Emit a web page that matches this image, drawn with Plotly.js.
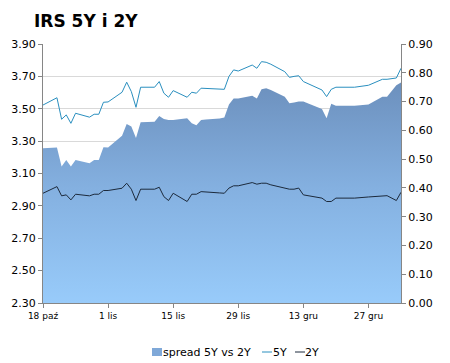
<!DOCTYPE html>
<html>
<head>
<meta charset="utf-8">
<script src="https://cdn.plot.ly/plotly-3.0.1.min.js"></script>
<style>html,body{margin:0;padding:0;background:#fff;}#chart{width:450px;height:363px;}</style>
</head>
<body>
<div id="chart"></div>
<script>
const dates = ['2013-10-18','2013-10-21','2013-10-22','2013-10-23','2013-10-24','2013-10-25',
  '2013-10-28','2013-10-29','2013-10-30','2013-10-31','2013-11-01',
  '2013-11-04','2013-11-05','2013-11-06','2013-11-07','2013-11-08',
  '2013-11-11','2013-11-12','2013-11-13','2013-11-14','2013-11-15',
  '2013-11-18','2013-11-19','2013-11-20','2013-11-21','2013-11-22',
  '2013-11-25','2013-11-26','2013-11-27','2013-11-28','2013-11-29',
  '2013-12-02','2013-12-03','2013-12-04','2013-12-05','2013-12-06',
  '2013-12-09','2013-12-10','2013-12-11','2013-12-12','2013-12-13',
  '2013-12-16','2013-12-17','2013-12-18','2013-12-19','2013-12-20',
  '2013-12-23','2013-12-24','2013-12-27','2013-12-30','2013-12-31',
  '2014-01-02','2014-01-03'];
const irs5y = [3.523,3.568,3.435,3.462,3.410,3.472,
  3.448,3.466,3.466,3.540,3.542,
  3.602,3.664,3.606,3.509,3.633,
  3.633,3.668,3.596,3.571,3.612,
  3.571,3.602,3.596,3.627,3.626,
  3.622,3.620,3.700,3.740,3.733,
  3.770,3.750,3.791,3.787,3.775,
  3.729,3.694,3.700,3.704,3.668,
  3.630,3.616,3.575,3.620,3.633,
  3.633,3.633,3.645,3.682,3.682,
  3.690,3.750];
const irs2y = [2.978,3.019,2.962,2.968,2.937,2.972,
  2.962,2.972,2.972,2.995,2.995,
  3.009,3.040,3.003,2.933,3.003,
  3.003,3.015,2.957,2.933,2.978,
  2.927,2.972,2.972,2.988,2.985,
  2.980,2.978,3.010,3.024,3.024,
  3.044,3.034,3.040,3.040,3.030,
  3.010,3.003,3.003,3.010,2.968,
  2.955,2.948,2.927,2.927,2.948,
  2.948,2.948,2.955,2.963,2.963,
  2.933,2.984];
const spread = [0.538,0.540,0.474,0.497,0.474,0.497,
  0.486,0.497,0.497,0.541,0.540,
  0.581,0.622,0.613,0.573,0.628,
  0.630,0.650,0.639,0.636,0.636,
  0.642,0.625,0.618,0.636,0.638,
  0.641,0.645,0.690,0.711,0.711,
  0.720,0.711,0.743,0.746,0.740,
  0.717,0.694,0.697,0.700,0.700,
  0.680,0.674,0.642,0.692,0.685,
  0.685,0.685,0.690,0.717,0.717,
  0.757,0.766];
const tickDates = ['2013-10-18','2013-11-01','2013-11-15','2013-11-29','2013-12-13','2013-12-27'];
const tickLabels = ['18 paź','1 lis','15 lis','29 lis','13 gru','27 gru'];
const leftTicks = [2.3,2.5,2.7,2.9,3.1,3.3,3.5,3.7,3.9];
const rightTicks = [0,0.1,0.2,0.3,0.4,0.5,0.6,0.7,0.8,0.9];
const seriesNames = ['spread 5Y vs 2Y', '5Y', '2Y'];
const colSpread = '#7fa8d8', col5 = '#2a8fbf', col2 = '#1c2a3c';

const font = 'DejaVu Sans, Verdana, sans-serif';
const traces = [
  {x: dates, y: spread, name: seriesNames[0], type: 'scatter', mode: 'lines',
   yaxis: 'y', fill: 'tozeroy', line: {width: 0, color: colSpread},
   fillcolor: '#85b0e0',
   fillgradient: {type: 'vertical', start: 0, stop: 0.8,
     colorscale: [[0, '#98cbfa'], [0.5, '#84b0e0'], [1, '#6a8dba']]}},
  {x: dates, y: irs5y, name: seriesNames[1], type: 'scatter', mode: 'lines', yaxis: 'y2',
   line: {width: 1, color: col5}},
  {x: dates, y: irs2y, name: seriesNames[2], type: 'scatter', mode: 'lines', yaxis: 'y2',
   line: {width: 1, color: col2}}
];
// pixel helpers for legend placement (plot area 43..401 x, 44..303 y)
const px = v => (v - 43) / 358;
const py = v => (303 - v) / 259;
const legY = 352;
const layout = {
  width: 450, height: 363,
  margin: {l: 43, r: 49, t: 44, b: 60},
  paper_bgcolor: '#fff', plot_bgcolor: '#fff',
  showlegend: false,
  annotations: [
    {text: '<b>IRS 5Y i 2Y</b>', xref: 'paper', yref: 'paper',
     x: px(32), xanchor: 'left', y: py(21), yanchor: 'middle', showarrow: false,
     font: {family: font, size: 17, color: '#000'}},
    {text: seriesNames[0], xref: 'paper', yref: 'paper', x: px(161), xanchor: 'left',
     y: py(legY), yanchor: 'middle', showarrow: false, font: {family: font, size: 11, color: '#000'}},
    {text: seriesNames[1], xref: 'paper', yref: 'paper', x: px(271), xanchor: 'left',
     y: py(legY), yanchor: 'middle', showarrow: false, font: {family: font, size: 11, color: '#000'}},
    {text: seriesNames[2], xref: 'paper', yref: 'paper', x: px(303), xanchor: 'left',
     y: py(legY), yanchor: 'middle', showarrow: false, font: {family: font, size: 11, color: '#000'}}
  ],
  shapes: [
    {type: 'rect', xref: 'paper', yref: 'paper', x0: px(152), x1: px(162), y0: py(348), y1: py(356),
     fillcolor: colSpread, line: {width: 0}},
    {type: 'line', xref: 'paper', yref: 'paper', x0: px(262), x1: px(272), y0: py(legY), y1: py(legY),
     line: {color: col5, width: 1}},
    {type: 'line', xref: 'paper', yref: 'paper', x0: px(295), x1: px(305), y0: py(legY), y1: py(legY),
     line: {color: col2, width: 1}}
  ],
  xaxis: {type: 'date', range: ['2013-10-18', '2014-01-03'],
    tickvals: tickDates, ticktext: tickLabels, tickfont: {family: font, size: 9, color: '#000'},
    ticks: 'outside', ticklen: 4, tickcolor: '#868686', showgrid: false, zeroline: false,
    showline: true, linecolor: '#868686', linewidth: 1, fixedrange: true},
  yaxis: {range: [0, 0.9], tickvals: rightTicks, tickformat: '.2f', side: 'right',
    tickfont: {family: font, size: 11, color: '#000'},
    ticks: 'outside', ticklen: 4, tickcolor: '#868686',
    showgrid: false, zeroline: false, showline: true, linecolor: '#868686', linewidth: 1},
  yaxis2: {range: [2.3, 3.9], tickvals: leftTicks, tickformat: '.2f', overlaying: 'y', side: 'left',
    tickfont: {family: font, size: 11, color: '#000'},
    ticks: 'outside', ticklen: 4, tickcolor: '#868686',
    showgrid: true, gridcolor: '#d9d9d9', gridwidth: 1, zeroline: false,
    showline: true, linecolor: '#868686', linewidth: 1}
};
Plotly.newPlot('chart', traces, layout, {staticPlot: true});
</script>
</body>
</html>
